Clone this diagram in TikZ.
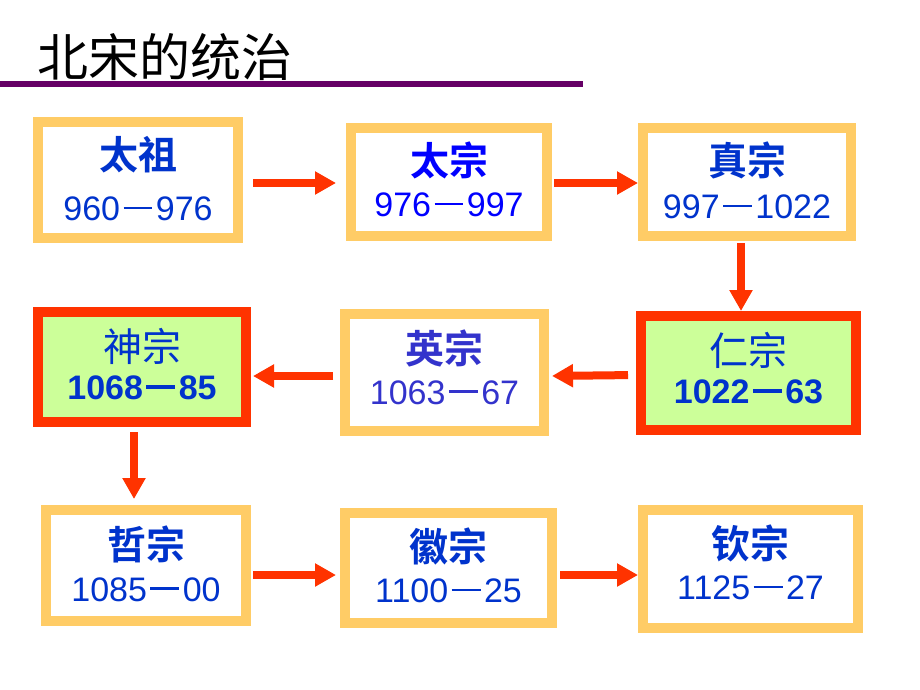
\documentclass[tikz,border=0pt]{standalone}
\usepackage{fontspec}
\usetikzlibrary{arrows.meta}
\newfontfamily\cjk{Noto Sans CJK SC}
\newfontfamily\cjkb{Noto Sans CJK SC Bold}
\setmainfont{Liberation Sans}
\definecolor{boxorange}{HTML}{FFCC66}
\definecolor{boxgreen}{HTML}{CCFF99}
\definecolor{boxred}{HTML}{FF3300}
\definecolor{arrowred}{HTML}{FF3300}
\definecolor{titleline}{HTML}{660066}
\definecolor{txtblue}{HTML}{0033CC}
\definecolor{txtpure}{HTML}{0000FF}
\definecolor{txtviolet}{HTML}{3333CC}
\newcommand{\dsh}{\hspace{0.1em}\rule[0.33em]{0.85em}{0.085em}\hspace{0.1em}}
\newcommand{\dshb}{\hspace{0.1em}\rule[0.31em]{0.85em}{0.12em}\hspace{0.1em}}
\begin{document}
\begin{tikzpicture}[x=1pt,y=-1pt,
  plainbox/.style={draw=boxorange, line width=10pt, fill=white, inner sep=0pt},
  hotbox/.style={draw=boxred, line width=10pt, fill=boxgreen, inner sep=0pt},
  namefont/.style={font=\fontsize{39}{42}\selectfont, inner sep=0pt},
  yearfont/.style={font=\fontsize{34}{38}\selectfont, inner sep=0pt},
  arr/.style={draw=arrowred, line width=8pt, -{Triangle[length=21pt,width=22pt]}}]
\useasboundingbox (0,0) rectangle (920,690);
\fill[white] (0,0) rectangle (920,690);
% title
\node[font=\fontsize{51}{54}\selectfont\cjk, anchor=center, inner sep=0pt] (title) at (165,57) {北宋的统治};
\coordinate (lineL) at (0,84);
\coordinate (lineR) at (583,84);
\draw[titleline, line width=6pt] (lineL) -- (lineR);
% boxes
\node[plainbox, minimum width=200pt, minimum height=116pt] (b1) at (138,180) {};
\node[plainbox, minimum width=196pt, minimum height=108pt] (b2) at (449,182) {};
\node[plainbox, minimum width=208pt, minimum height=108pt] (b3) at (747,182) {};
\node[hotbox,   minimum width=215pt, minimum height=114pt] (b4) at (748.5,373) {};
\node[plainbox, minimum width=199pt, minimum height=117pt] (b5) at (444.5,372.5) {};
\node[hotbox,   minimum width=208pt, minimum height=110pt] (b6) at (142,367) {};
\node[plainbox, minimum width=200pt, minimum height=111pt] (b7) at (146,565.5) {};
\node[plainbox, minimum width=207pt, minimum height=110pt] (b8) at (448.5,568) {};
\node[plainbox, minimum width=215pt, minimum height=118pt] (b9) at (750.5,569) {};
% texts
\node[namefont, text=txtblue] (n1) at ([yshift=25pt]b1.center) {\cjkb 太祖};
\node[yearfont, text=txtblue] (y1) at ([yshift=-29pt]b1.center) {960\dsh976};
\node[namefont, text=txtpure] (n2) at ([yshift=22pt]b2.center) {\cjkb 太宗};
\node[yearfont, text=txtpure] (y2) at ([yshift=-23pt]b2.center) {976\dsh997};
\node[namefont, text=txtblue] (n3) at ([yshift=22pt]b3.center) {\cjkb 真宗};
\node[yearfont, text=txtblue] (y3) at ([yshift=-25pt]b3.center) {997\dsh1022};
\node[namefont, text=txtblue] (n4) at ([yshift=23pt]b4.center) {\cjk 仁宗};
\node[yearfont, text=txtblue] (y4) at ([yshift=-19pt]b4.center) {\bfseries 1022\dshb63};
\node[namefont, text=txtviolet] (n5) at ([yshift=24pt]b5.center) {\cjkb 英宗};
\node[yearfont, text=txtviolet] (y5) at ([yshift=-20pt]b5.center) {1063\dsh67};
\node[namefont, text=txtblue] (n6) at ([yshift=21pt]b6.center) {\cjk 神宗};
\node[yearfont, text=txtblue] (y6) at ([yshift=-21pt]b6.center) {\bfseries 1068\dshb85};
\node[namefont, text=txtblue] (n7) at ([yshift=21pt]b7.center) {\cjkb 哲宗};
\node[yearfont, text=txtblue] (y7) at ([yshift=-24pt]b7.center) {1085\dsh00};
\node[namefont, text=txtblue] (n8) at ([yshift=22pt]b8.center) {\cjkb 徽宗};
\node[yearfont, text=txtblue] (y8) at ([yshift=-23pt]b8.center) {1100\dsh25};
\node[namefont, text=txtblue] (n9) at ([yshift=26pt]b9.center) {\cjkb 钦宗};
\node[yearfont, text=txtblue] (y9) at ([yshift=-19pt]b9.center) {1125\dsh27};
% arrows
\draw[arr, shorten <=10pt, shorten >=10pt] ([yshift=-3pt]b1.east) -- ([yshift=-1pt]b2.west);
\draw[arr, shorten <=2pt, shorten >=0pt] ([yshift=-1pt]b2.east) -- ([yshift=-1pt]b3.west);
\draw[arr, shorten <=2pt, shorten >=0pt] ([xshift=-6pt]b3.south) -- ([xshift=-7.5pt]b4.north);
\draw[arr, shorten <=8pt, shorten >=3pt] ([yshift=-2pt]b4.west) -- ([yshift=-3.5pt]b5.east);
\draw[arr, shorten <=7pt, shorten >=2pt] ([yshift=-3.5pt]b5.west) -- ([yshift=-9pt]b6.east);
\draw[arr, shorten <=5pt, shorten >=6pt] ([xshift=-8pt]b6.south) -- ([xshift=-12pt]b7.north);
\draw[arr, shorten <=2pt, shorten >=4pt] ([yshift=-9.5pt]b7.east) -- ([yshift=-7pt]b8.west);
\draw[arr, shorten <=3pt, shorten >=0pt] ([yshift=-7pt]b8.east) -- ([yshift=-6pt]b9.west);
\end{tikzpicture}
\end{document}
